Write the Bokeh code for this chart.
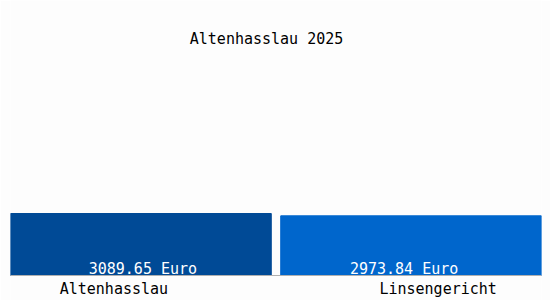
from bokeh.plotting import figure
from bokeh.models import ColumnDataSource, Range1d, Span
from bokeh.core.properties import value
from bokeh.embed import file_html
from bokeh.resources import INLINE

categories = ["Altenhasslau", "Linsengericht"]
values = [3089.65, 2973.84]
value_labels = ["3089.65 Euro", "2973.84 Euro"]
colors = ["#004a96", "#0066cc"]
title_text = "Altenhasslau 2025"

idx = list(range(len(categories)))
src = ColumnDataSource(dict(x=idx, top=values, cat=categories, lab=value_labels,
                            color=colors, zero=[0] * len(categories),
                            cat_off=[-27, 27], lab_off=[2, -7]))

px_per_unit = 62 / max(values)
ymax = 275 / px_per_unit
ymin = -25 / px_per_unit
p = figure(width=550, height=300, output_backend="svg", toolbar_location=None,
           x_range=Range1d(-0.4825, len(categories) - 1 + 0.4825),
           y_range=Range1d(ymin, ymax),
           x_axis_location=None, y_axis_location=None,
           min_border_left=10, min_border_right=9, min_border_top=0, min_border_bottom=0)
p.outline_line_color = None
p.grid.visible = False
p.background_fill_color = "#fdfdfd"
p.border_fill_color = "#fdfdfd"

p.vbar(x="x", top="top", bottom=0, width=0.965, color="color", source=src)
p.add_layout(Span(location=0, dimension="width", line_color="#b0b0b0", line_width=1))

font = value("DejaVu Sans Mono")
p.text(x="x", y="zero", text="lab", source=src, text_color="white", text_font=font,
       text_font_size="15px", text_align="center", text_baseline="middle",
       x_offset="lab_off", y_offset=-7)
p.text(x="x", y="zero", text="cat", source=src, text_color="black", text_font=font,
       text_font_size="15px", text_align="center", text_baseline="middle",
       x_offset="cat_off", y_offset=13)
p.text(x=[(len(categories) - 1) / 2 - 0.035], y=[ymax * (275 - 38) / 275], text=[title_text],
       text_color="black", text_font=font, text_font_size="15px",
       text_align="center", text_baseline="middle")

open("out.html", "w").write(file_html(p, INLINE))
